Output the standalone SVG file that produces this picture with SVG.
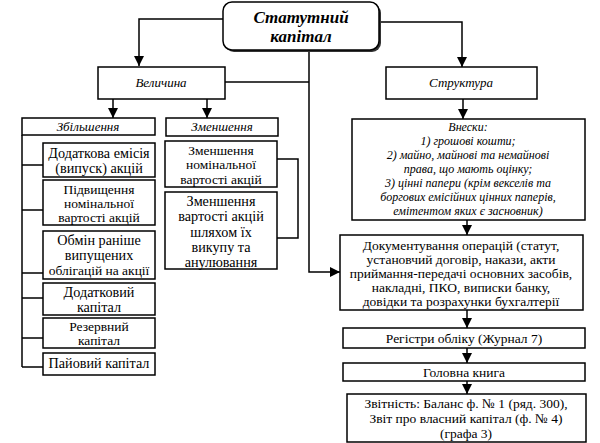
<svg xmlns="http://www.w3.org/2000/svg" width="600" height="443" viewBox="0 0 600 443">
<defs>
<marker id="arr" markerUnits="userSpaceOnUse" markerWidth="10" markerHeight="10" refX="10" refY="5" orient="auto">
<path d="M0,0 L10,5 L0,10 Z" fill="#000"/>
</marker>
</defs>
<style>
.box{fill:#fff;stroke:#000;stroke-width:1.5}
.c{fill:none;stroke:#000;stroke-width:1.5}
text{font-family:'Liberation Serif','Times New Roman','DejaVu Serif',serif;fill:#000;text-anchor:middle}
.t{font-size:13.5px}
.l{font-size:13.5px}
.w{font-size:14.2px}
.i{font-size:13px;font-style:italic}
.v{font-size:12px;font-style:italic}
.h{font-size:17px;font-style:italic;font-weight:bold}
</style>
<rect width="600" height="443" fill="#fff"/>
<g id="connectors">
<path class="c" d="M223,19 H139 V66" marker-end="url(#arr)"/>
<path class="c" d="M379,22 H462 V67" marker-end="url(#arr)"/>
<path class="c" d="M309,50 V272 H340" marker-end="url(#arr)"/>
<path class="c" d="M225,82 H309"/>
<path class="c" d="M113,99 V118" marker-end="url(#arr)"/>
<path class="c" d="M207,99 V118" marker-end="url(#arr)"/>
<path class="c" d="M463,99 V119" marker-end="url(#arr)"/>
<path class="c" d="M467,220 V235" marker-end="url(#arr)"/>
<path class="c" d="M467,310 V328" marker-end="url(#arr)"/>
<path class="c" d="M467,348 V363" marker-end="url(#arr)"/>
<path class="c" d="M467,381 V394" marker-end="url(#arr)"/>
<path class="c" d="M22,135 V367"/>
<path class="c" d="M22,165 H43 M22,210 H43 M22,273 H43 M22,298 H43 M22,338 H43 M22,367 H43"/>
<path class="c" d="M277,159 H298 V238 H277"/>
</g>
<g id="n-root">
<rect x="225" y="4" width="156" height="48" rx="9" fill="#333"/>
<rect class="box" x="223" y="2" width="156" height="48" rx="9"/>
<text class="h" x="301" y="23">Статутний</text>
<text class="h" x="301" y="42">капітал</text>
</g>
<g id="n-velychyna">
<rect class="box" x="98" y="67" width="127" height="32"/>
<text class="i" x="161" y="87">Величина</text>
</g>
<g id="n-struktura">
<rect class="box" x="386" y="67" width="151" height="32"/>
<text class="i" x="461" y="87">Структура</text>
</g>
<g id="n-zbilshennia">
<rect class="box" x="22" y="118" width="133" height="17"/>
<text class="i" x="88" y="131">Збільшення</text>
</g>
<g id="n-zmenshennia">
<rect class="box" x="166" y="118" width="112" height="18"/>
<text class="i" x="222" y="131">Зменшення</text>
</g>
<g id="n-emisiia">
<rect class="box" x="43" y="143" width="112" height="34"/>
<text class="w" x="99" y="158">Додаткова емісія</text>
<text class="w" x="99" y="173">(випуск) акцій</text>
</g>
<g id="n-pidvyshchennia">
<rect class="box" x="43" y="180" width="112" height="45"/>
<text class="l" x="99" y="194">Підвищення</text>
<text class="l" x="99" y="208">номінальної</text>
<text class="l" x="99" y="222">вартості акцій</text>
</g>
<g id="n-obmin">
<rect class="box" x="43" y="231" width="112" height="48"/>
<text class="w" x="99" y="245">Обмін раніше</text>
<text class="w" x="99" y="260">випущених</text>
<text class="t" x="99" y="275">облігацій на акції</text>
</g>
<g id="n-dodatkovyi">
<rect class="box" x="43" y="283" width="112" height="32"/>
<text class="w" x="99" y="297">Додатковий</text>
<text class="w" x="99" y="312">капітал</text>
</g>
<g id="n-rezervnyi">
<rect class="box" x="43" y="318" width="112" height="30"/>
<text class="l" x="99" y="331">Резервний</text>
<text class="l" x="99" y="345">капітал</text>
</g>
<g id="n-paiovyi">
<rect class="box" x="43" y="353" width="112" height="22"/>
<text class="w" x="99" y="368">Пайовий капітал</text>
</g>
<g id="n-zm-nominal">
<rect class="box" x="165" y="141" width="112" height="46"/>
<text class="l" x="221" y="155">Зменшення</text>
<text class="l" x="221" y="169">номінальної</text>
<text class="l" x="221" y="184">вартості акцій</text>
</g>
<g id="n-zm-vykup">
<rect class="box" x="165" y="192" width="112" height="77"/>
<text class="w" x="221" y="206">Зменшення</text>
<text class="w" x="221" y="221">вартості акцій</text>
<text class="w" x="221" y="237">шляхом їх</text>
<text class="w" x="221" y="252">викупу та</text>
<text class="w" x="221" y="267">анулювання</text>
</g>
<g id="n-vnesky">
<rect class="box" x="352" y="119" width="233" height="101"/>
<text class="v" x="468" y="131">Внески:</text>
<text class="v" x="468" y="145">1) грошові кошти;</text>
<text class="v" x="468" y="159">2) майно, майнові та немайнові</text>
<text class="v" x="468" y="173">права, що мають оцінку;</text>
<text class="v" x="468" y="187">3) цінні папери (крім векселів та</text>
<text class="v" x="468" y="201">боргових емісійних цінних паперів,</text>
<text class="v" x="468" y="215">емітентом яких є засновник)</text>
</g>
<g id="n-dokumentuvannia">
<rect class="box" x="340" y="235" width="243" height="75"/>
<text class="t" x="461" y="250">Документування операцій (статут,</text>
<text class="t" x="461" y="264">установчий договір, накази, акти</text>
<text class="t" x="461" y="278">приймання-передачі основних засобів,</text>
<text class="t" x="461" y="292">накладні, ПКО, виписки банку,</text>
<text class="t" x="461" y="306">довідки та розрахунки бухгалтерії</text>
</g>
<g id="n-rehistry">
<rect class="box" x="343" y="328" width="242" height="20"/>
<text class="t" x="464" y="343">Регістри обліку (Журнал 7)</text>
</g>
<g id="n-holovna">
<rect class="box" x="343" y="363" width="242" height="18"/>
<text class="t" x="464" y="377">Головна книга</text>
</g>
<g id="n-zvitnist">
<rect class="box" x="347" y="394" width="239" height="48"/>
<text class="t" x="466" y="408">Звітність: Баланс ф. № 1 (ряд. 300),</text>
<text class="t" x="466" y="423">Звіт про власний капітал (ф. № 4)</text>
<text class="t" x="466" y="438">(графа 3)</text>
</g>
</svg>
